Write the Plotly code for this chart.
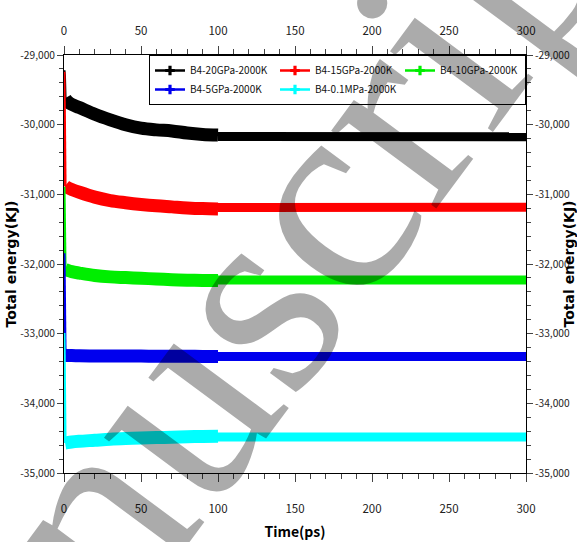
import plotly.graph_objects as go

# ---------------- data ----------------
series_names = ["B4-20GPa-2000K", "B4-15GPa-2000K", "B4-10GPa-2000K",
                "B4-5GPa-2000K", "B4-0.1MPa-2000K"]
series_colors = ["#000000", "#ff0000", "#00ee00", "#0000ee", "#00ffff"]

# initial transient (near t = 0)
time_spike = [0.0, 0.3, 0.7]
spike_black = [-29220, -29300, -29620]
spike_red = [-29240, -30540, -30880]
spike_green = [-30890, -31500, -32080]
spike_blue = [-31845, -33020, -33300]
spike_cyan = [-32990, -34110, -34570]

# equilibration part, 0-100 ps
time_early = [0.7, 2, 5, 10, 20, 30, 40, 50, 60, 70, 80, 90, 100]
early_black = [-29620, -29660, -29710, -29755, -29850, -29930, -30000, -30050,
               -30075, -30090, -30120, -30140, -30150]
early_red = [-30880, -30900, -30930, -30970, -31040, -31090, -31120, -31145,
             -31165, -31180, -31195, -31205, -31210]
early_green = [-32080, -32090, -32110, -32130, -32165, -32185, -32195, -32205,
               -32215, -32225, -32232, -32236, -32238]
early_blue = [-33310, -33312, -33315, -33318, -33320, -33321, -33322, -33322,
              -33323, -33324, -33325, -33326, -33326]
early_cyan = [-34570, -34565, -34555, -34545, -34530, -34515, -34505, -34498,
              -34492, -34486, -34480, -34476, -34474]

# production part, 100-300 ps
time_late = [100, 150, 200, 250, 300]
late_black = [-30170, -30172, -30172, -30172, -30172]
late_red = [-31190, -31188, -31186, -31186, -31186]
late_green = [-32228, -32229, -32229, -32229, -32229]
late_blue = [-33327, -33327, -33327, -33327, -33327]
late_cyan = [-34484, -34484, -34484, -34484, -34484]

spikes = [spike_black, spike_red, spike_green, spike_blue, spike_cyan]
earlies = [early_black, early_red, early_green, early_blue, early_cyan]
lates = [late_black, late_red, late_green, late_blue, late_cyan]

x_range = [0, 300]
y_range = [-35000, -29000]
x_tick_values = [0, 50, 100, 150, 200, 250, 300]
x_tick_labels = ["0", "50", "100", "150", "200", "250", "300"]
y_tick_values = [-35000, -34000, -33000, -32000, -31000, -30000, -29000]
y_tick_labels = ["-35,000", "-34,000", "-33,000", "-32,000", "-31,000",
                 "-30,000", "-29,000"]
watermark_text = "nuscript"

# ---------------- figure ----------------
NARROW = "Noto Sans CJK SC, Roboto, sans-serif"
fig = go.Figure()

for name, col, sp, ea, la in zip(series_names, series_colors, spikes, earlies, lates):
    fig.add_trace(go.Scatter(x=time_late, y=la, mode="lines", showlegend=False,
                             line=dict(color=col, width=9), hoverinfo="skip"))
    fig.add_trace(go.Scatter(x=time_early, y=ea, mode="lines", showlegend=False,
                             line=dict(color=col, width=13, shape="spline"),
                             hoverinfo="skip"))
    fig.add_trace(go.Scatter(x=time_spike, y=sp, mode="lines", showlegend=False,
                             line=dict(color=col, width=3), hoverinfo="skip"))

# legend-only entries (line + cross marker)
for name, col in zip(series_names, series_colors):
    fig.add_trace(go.Scatter(x=[None], y=[None], mode="lines+markers", name=name,
                             line=dict(color=col, width=2.5),
                             marker=dict(symbol="cross", size=8, color=col)))

# invisible traces so the mirrored / label axes are drawn
for xa, ya in [("x2", "y2"), ("x3", "y"), ("x4", "y")]:
    fig.add_trace(go.Scatter(x=x_range, y=y_range, xaxis=xa, yaxis=ya,
                             mode="lines", line=dict(width=0), showlegend=False,
                             hoverinfo="skip"))

# layout geometry (pixels): plot area 64..526 x 55..473
W, H = 577, 542
M_T, M_B = 37, 42
paper_h = H - M_T - M_B
y_domain = [(H - M_B - 473) / paper_h, 1 - (55 - M_T) / paper_h]

tickfont = dict(family=NARROW, size=11.5, color="#222")
tick_axis = dict(range=x_range, tickmode="array", tickvals=x_tick_values,
                 ticks="outside", ticklen=8, tickwidth=1, tickcolor="#444",
                 showline=True, linecolor="black", linewidth=1, showgrid=False,
                 zeroline=False, showticklabels=False, automargin=False,
                 minor=dict(dtick=10, tick0=0, ticks="outside", ticklen=5,
                            tickcolor="#444"))
label_axis = dict(range=x_range, tickmode="array", tickvals=x_tick_values,
                  ticktext=x_tick_labels, ticks="", showline=False,
                  showgrid=False, zeroline=False, tickfont=tickfont,
                  automargin=False, overlaying="x", anchor="free")
common_y = dict(range=y_range, tickmode="array", tickvals=y_tick_values,
                ticktext=y_tick_labels, ticks="outside", ticklen=6,
                tickwidth=1, tickcolor="#444", showline=True, linecolor="black",
                linewidth=1, showgrid=False, zeroline=False, domain=y_domain,
                tickfont=dict(family=NARROW, size=10.2, color="#222"),
                automargin=False,
                minor=dict(dtick=200, tick0=-35000, ticks="outside", ticklen=4,
                           tickcolor="#444"))

ytitle = dict(text="<b>Total energy(KJ)</b>",
              font=dict(family="DejaVu Sans, Verdana, sans-serif", size=14, color="black"),
              standoff=0)

fig.update_layout(
    width=W, height=H,
    margin=dict(l=64, r=51, t=M_T, b=M_B),
    paper_bgcolor="white", plot_bgcolor="white",
    xaxis=dict(**tick_axis),
    xaxis2=dict(**tick_axis, overlaying="x", side="top", anchor="y"),
    xaxis3=dict(**label_axis, side="bottom", position=0,
                title=dict(text="<b>Time(ps)</b>",
                           font=dict(family=NARROW, size=14, color="black"),
                           standoff=12)),
    xaxis4=dict(**label_axis, side="top", position=1),
    yaxis=dict(**common_y, title=ytitle),
    yaxis2=dict(**common_y, overlaying="y", side="right", anchor="x", title=ytitle),
    legend=dict(orientation="h", x=1, y=y_domain[1], xanchor="right", yanchor="top",
                bgcolor="white", bordercolor="black", borderwidth=1,
                font=dict(family=NARROW, size=10, color="#111"),
                entrywidth=80, entrywidthmode="pixels",
                tracegroupgap=0, itemwidth=30),
    showlegend=True,
)

fig.add_annotation(text=watermark_text, xref="paper", yref="paper",
                   x=(318 - 64) / 462, y=(H - M_B - 207) / paper_h,
                   xanchor="center", yanchor="middle", textangle=-53.5,
                   showarrow=False,
                   font=dict(family="Liberation Serif, Times New Roman, serif",
                             size=285, color="rgba(0,0,0,0.33)"))

fig.write_html("out.html")
